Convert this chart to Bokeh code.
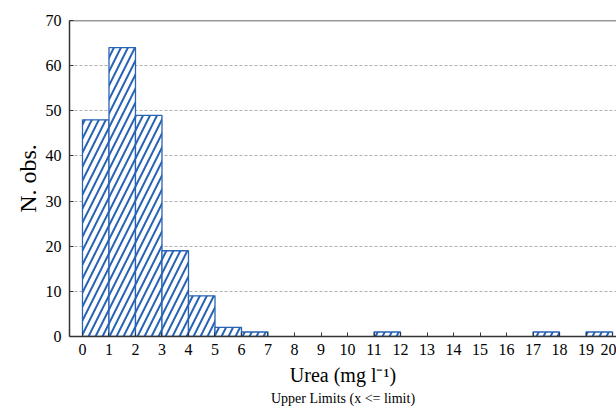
from bokeh.plotting import figure
from bokeh.models import FixedTicker, Span, Title, Range1d
from bokeh.embed import file_html
from bokeh.resources import INLINE

# Data: upper limits of bins (mg l-1) and counts
bin_upper = list(range(1, 21))
counts = [48, 64, 49, 19, 9, 2, 1, 0, 0, 0, 0, 1, 0, 0, 0, 0, 0, 1, 0, 1]
x_ticks = list(range(0, 21))
y_ticks = [0, 10, 20, 30, 40, 50, 60, 70]

lefts = [u - 1 for u, c in zip(bin_upper, counts) if c > 0]
rights = [u for u, c in zip(bin_upper, counts) if c > 0]
tops = [c for c in counts if c > 0]
bottoms = [0] * len(tops)

FONT = "Liberation Serif"
BLUE = "#2863b4"

p = figure(width=616, height=408, output_backend="svg", toolbar_location=None,
           x_range=Range1d(-0.49, 20.15), y_range=Range1d(0, 70),
           min_border_left=69, min_border_right=0, min_border_top=20, min_border_bottom=72)
p.outline_line_color = None
p.background_fill_color = "white"
p.border_fill_color = "white"

p.quad(left=lefts, right=rights, top=tops, bottom=bottoms,
       fill_color="white", line_color=BLUE, line_width=1.3,
       hatch_pattern="/", hatch_color=BLUE, hatch_scale=14, hatch_weight=2)

p.add_layout(Span(location=70, dimension="width", line_color="#333333", line_width=1.5))

p.xaxis.ticker = FixedTicker(ticks=x_ticks)
p.yaxis.ticker = FixedTicker(ticks=y_ticks)
p.xgrid.visible = False
p.ygrid.ticker = FixedTicker(ticks=[10, 20, 30, 40, 50, 60])
p.ygrid.grid_line_color = "#b0b0b0"
p.ygrid.grid_line_dash = "3 2"
p.ygrid.grid_line_width = 1

for ax in (p.xaxis, p.yaxis):
    ax.axis_line_color = "#333333"
    ax.axis_line_width = 1.5
    ax.major_tick_in = 4
    ax.major_tick_out = 0
    ax.minor_tick_line_color = None
    ax.major_tick_line_color = "#333333"
    ax.major_label_text_font = FONT
    ax.major_label_text_color = "black"
    ax.axis_label_text_font = FONT
    ax.axis_label_text_font_style = "normal"
    ax.axis_label_text_color = "black"

p.xaxis.major_label_text_font_size = "16px"
p.yaxis.major_label_text_font_size = "16px"
p.xaxis.major_label_standoff = 7
p.yaxis.major_label_standoff = 8
p.xaxis.axis_label = "Urea (mg l\u207b\u00b9)"
p.xaxis.axis_label_text_font_size = "20px"
p.xaxis.axis_label_standoff = 6
p.yaxis.axis_label = "N. obs."
p.yaxis.axis_label_text_font_size = "24px"
p.yaxis.axis_label_standoff = 2

sub = Title(text="Upper Limits (x <= limit)", align="center", text_font=FONT,
            text_font_size="14px", text_font_style="normal", text_color="black",
            standoff=0, offset=0)
p.add_layout(sub, "below")

open("out.html", "w").write(file_html(p, INLINE))
